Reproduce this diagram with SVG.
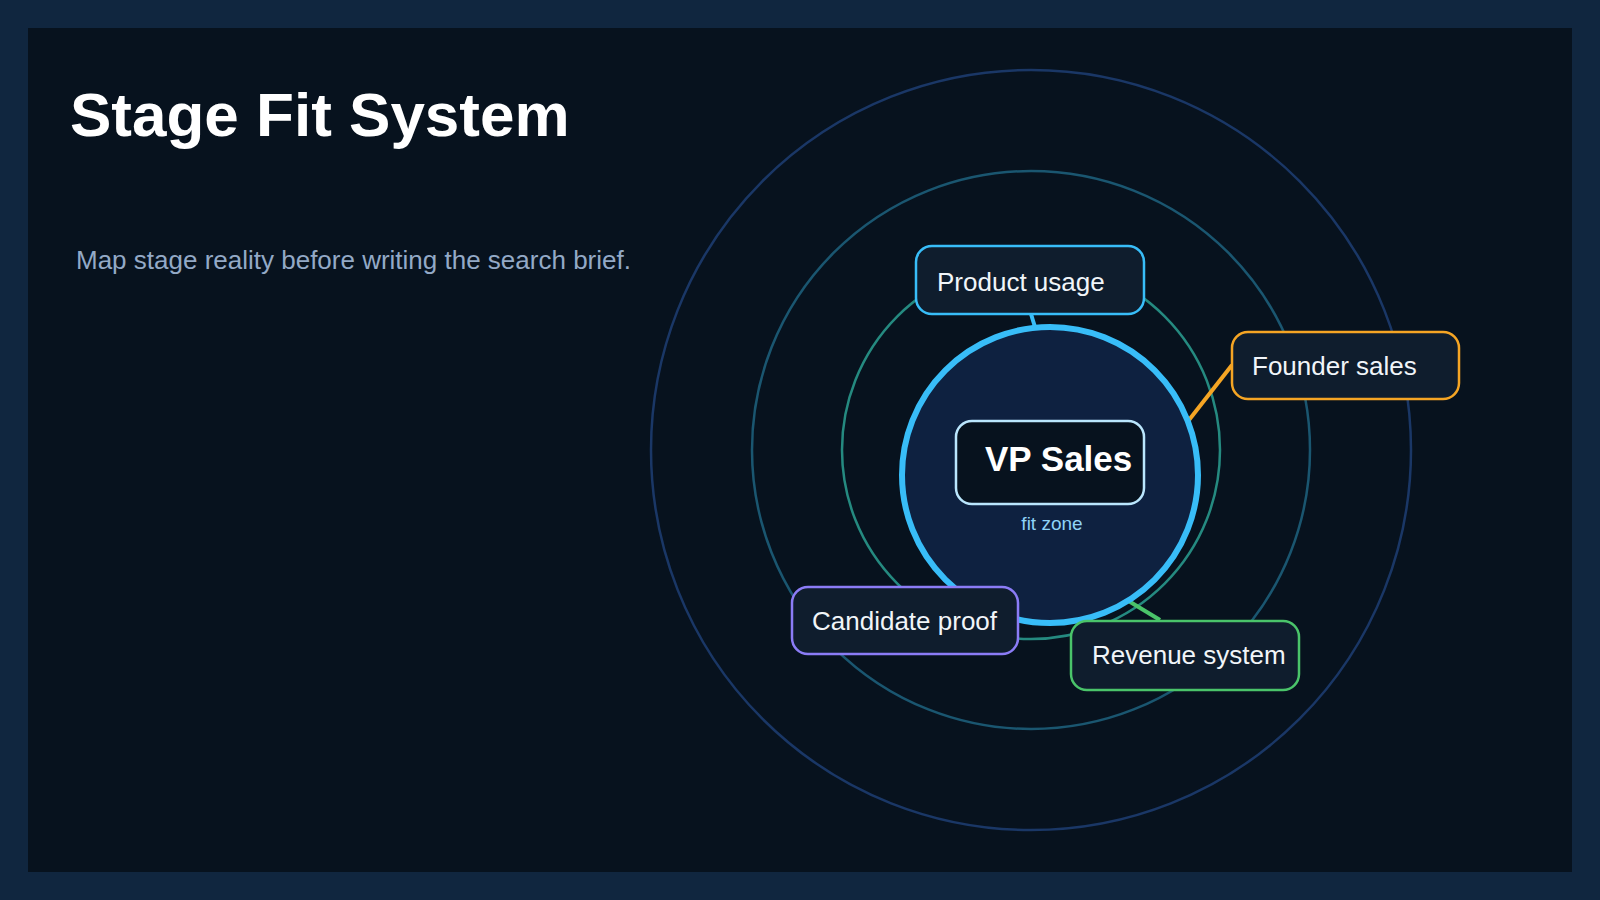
<svg xmlns="http://www.w3.org/2000/svg" width="1600" height="900" viewBox="0 0 1600 900">
<style>
.lbl{font-family:"Liberation Sans",Arial,sans-serif;font-size:26px;fill:#f1f5f9}
.node{fill:#0f1d2d;stroke-width:2.5}
</style>
<rect width="1600" height="900" fill="#10263f"/>
<rect x="28" y="28" width="1544" height="844" fill="#07121e"/>
<text x="70" y="136" font-family="Liberation Sans,Arial,sans-serif" font-size="62" font-weight="bold" fill="#ffffff">Stage Fit System</text>
<text x="76" y="269" font-family="Liberation Sans,Arial,sans-serif" font-size="26" fill="#93a9c6">Map stage reality before writing the search brief.</text>
<g id="rings" fill="none" stroke-width="2.5">
<circle cx="1031" cy="450" r="380" stroke="#1a3766"/>
<circle cx="1031" cy="450" r="279" stroke="#1a5670"/>
<circle cx="1031" cy="450" r="189" stroke="#258a80"/>
</g>
<g id="connectors" stroke-width="4" fill="none">
<line x1="1031" y1="314" x2="1038" y2="337" stroke="#38bdf8"/>
<line x1="1232" y1="365" x2="1189" y2="420" stroke="#f5a524"/>
<line x1="1160" y1="620" x2="1122" y2="597" stroke="#4ac46a"/>
</g>
<g id="core">
<circle cx="1050" cy="475" r="148" fill="#0e2140" stroke="#38bdf8" stroke-width="6"/>
<text x="1052" y="530" text-anchor="middle" font-family="Liberation Sans,Arial,sans-serif" font-size="19" fill="#8fd3f7">fit zone</text>
</g>
<g id="vp-sales">
<rect x="956" y="421" width="188" height="83" rx="16" fill="#07121e" stroke="#bae6fd" stroke-width="2.5"/>
<text x="985" y="471" font-family="Liberation Sans,Arial,sans-serif" font-size="35" font-weight="bold" fill="#ffffff">VP Sales</text>
</g>
<g id="product-usage">
<rect class="node" x="916" y="246" width="228" height="68" rx="16" stroke="#38bdf8"/>
<text class="lbl" x="937" y="291">Product usage</text>
</g>
<g id="founder-sales">
<rect class="node" x="1232" y="332" width="227" height="67" rx="16" stroke="#f5a524"/>
<text class="lbl" x="1252" y="375">Founder sales</text>
</g>
<g id="candidate-proof">
<rect class="node" x="792" y="587" width="226" height="67" rx="16" stroke="#8b7cf6"/>
<text class="lbl" x="812" y="630">Candidate proof</text>
</g>
<g id="revenue-system">
<rect class="node" x="1071" y="621" width="228" height="69" rx="16" stroke="#4ac46a"/>
<text class="lbl" x="1092" y="664">Revenue system</text>
</g>
</svg>
